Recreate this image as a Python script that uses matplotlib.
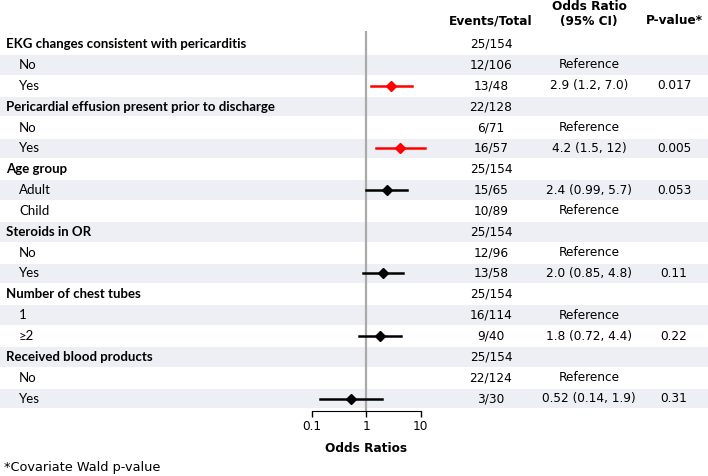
import numpy as np
import matplotlib
matplotlib.use('Agg')
import matplotlib.pyplot as plt
from matplotlib.patches import Rectangle
from matplotlib.transforms import blended_transform_factory

labels = ['EKG changes consistent with pericarditis', 'No', 'Yes',
          'Pericardial effusion present prior to discharge', 'No', 'Yes',
          'Age group', 'Adult', 'Child',
          'Steroids in OR', 'No', 'Yes',
          'Number of chest tubes', '1', '≥2',
          'Received blood products', 'No', 'Yes']
is_header = [True, False, False, True, False, False, True, False, False,
             True, False, False, True, False, False, True, False, False]
events = ['25/154', '12/106', '13/48', '22/128', '6/71', '16/57',
          '25/154', '15/65', '10/89', '25/154', '12/96', '13/58',
          '25/154', '16/114', '9/40', '25/154', '22/124', '3/30']
or_text = ['', 'Reference', '2.9 (1.2, 7.0)', '', 'Reference', '4.2 (1.5, 12)',
           '', '2.4 (0.99, 5.7)', 'Reference', '', 'Reference', '2.0 (0.85, 4.8)',
           '', 'Reference', '1.8 (0.72, 4.4)', '', 'Reference', '0.52 (0.14, 1.9)']
p_text = ['', '', '0.017', '', '', '0.005', '', '0.053', '', '',
          '', '0.11', '', '', '0.22', '', '', '0.31']
# rows with an estimate
est_rows = [2, 5, 7, 11, 14, 17]
or_est = [2.9, 4.2, 2.4, 2.0, 1.8, 0.52]
or_lo = [1.2, 1.5, 0.99, 0.85, 0.72, 0.14]
or_hi = [7.0, 12, 5.7, 4.8, 4.4, 1.9]
significant = [True, True, False, False, False, False]

W, H = 708, 476
fig = plt.figure(figsize=(W / 100, H / 100), dpi=100)
ax = fig.add_axes([312 / W, 1 - 410.7 / H, (420.7 - 312) / W, (410.7 - 31) / H])
ax.set_zorder(2)
ax.set_xscale('log')
ax.set_xlim(0.1, 10)
ax.set_ylim(17.58, -0.63)

# row shading across the whole figure
trans = blended_transform_factory(fig.transFigure, ax.transData)
for i in range(len(labels)):
    if i % 2 == 1:
        fig.patches.append(Rectangle((0, i - 0.47), 1, 0.94, transform=trans,
                                     facecolor='#eeeff4', edgecolor='none', zorder=0))

ax.axvline(1, color='#aaaaaa', lw=1.6, zorder=1)

for r, est, lo, hi, sig in zip(est_rows, or_est, or_lo, or_hi, significant):
    c = 'red' if sig else 'black'
    ax.plot([lo, hi], [r, r], color=c, lw=1.8, clip_on=False, zorder=3)
    ax.plot(est, r, marker='D', color=c, ms=5, clip_on=False, zorder=4)

ax.patch.set_visible(False)
for s in ['top', 'right', 'left']:
    ax.spines[s].set_visible(False)
ax.spines['bottom'].set_color('black')
ax.set_yticks([])
ax.set_xticks([0.1, 1, 10])
ax.set_xticklabels(['0.1', '1', '10'])
ax.minorticks_off()
ax.tick_params(axis='x', length=4, width=1, labelsize=8.7, pad=3)
ax.set_xlabel('Odds Ratios', fontsize=8.7, fontweight='bold', labelpad=6)

for i, lab in enumerate(labels):
    if is_header[i]:
        fig.text(6 / W, i, lab, transform=trans, family='Lato', fontsize=9.55,
                 fontweight='bold', va='center', ha='left', zorder=3)
    else:
        fig.text(19 / W, i, lab, transform=trans, family=['Lato', 'DejaVu Sans'],
                 fontsize=9.55, va='center', ha='left', zorder=3)
    fig.text(491 / W, i, events[i], transform=trans, fontsize=8.7, ha='center', va='center', zorder=3)
    if or_text[i]:
        fig.text(589 / W, i, or_text[i], transform=trans, fontsize=8.7, ha='center', va='center', zorder=3)
    if p_text[i]:
        fig.text(674 / W, i, p_text[i], transform=trans, fontsize=8.7, ha='center', va='center', zorder=3)

fig.text(491 / W, 1 - 21 / H, 'Events/Total', fontsize=8.7, fontweight='bold', ha='center', va='center')
fig.text(589 / W, 1 - 14 / H, 'Odds Ratio\n(95% CI)', fontsize=8.7, fontweight='bold',
         ha='center', va='center', linespacing=1.1)
fig.text(674 / W, 1 - 21 / H, 'P-value*', fontsize=8.7, fontweight='bold', ha='center', va='center')

fig.text(4 / W, 1 - 467 / H, '*Covariate Wald p-value', fontsize=9.3, ha='left', va='center')

fig.savefig('out.png', dpi=100)
